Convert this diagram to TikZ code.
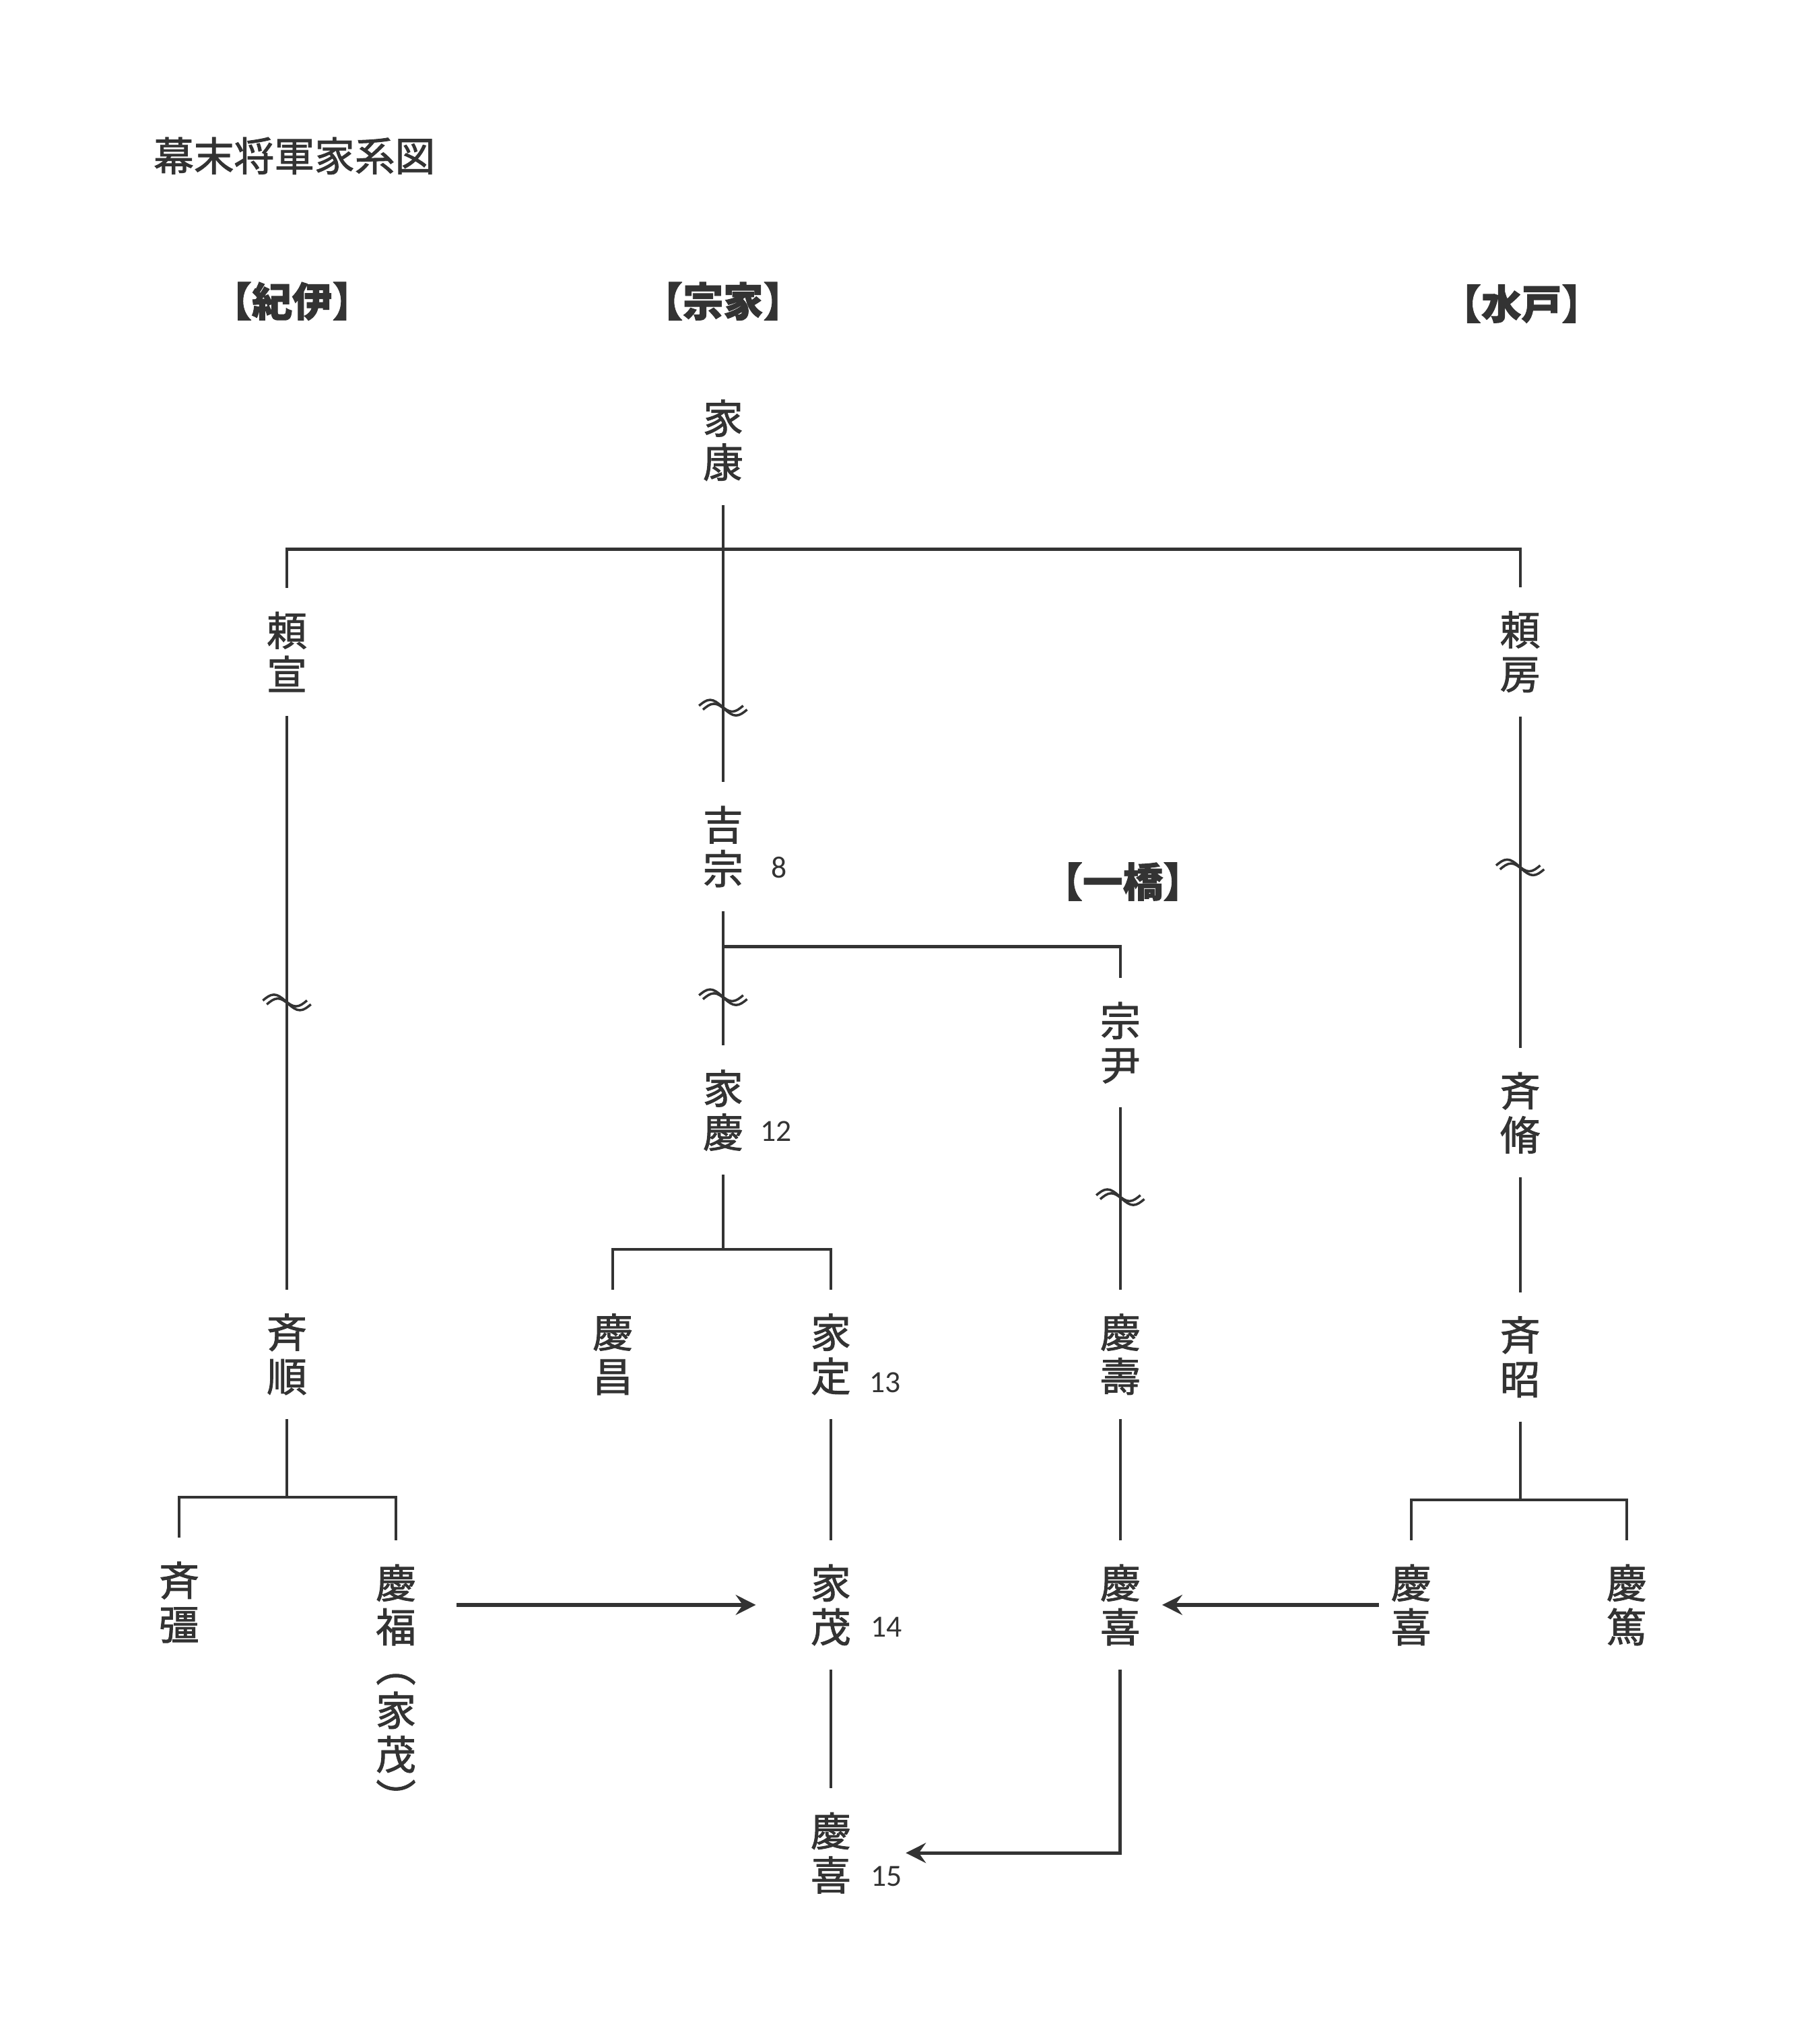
\documentclass[tikz,border=0pt]{standalone}
\usepackage{fontspec}
\newfontfamily\jp[FakeBold=1.5]{Noto Sans CJK JP}
\newfontfamily\numfont{Carlito}
\usepackage{xcolor}
\usepackage{tikz}
\usetikzlibrary{arrows.meta, positioning, calc}
\definecolor{ink}{HTML}{333333}

\begin{document}
\begin{tikzpicture}[
    x=0.01928cm, y=-0.01928cm,
    person/.style={font=\jp\fontsize{17}{18.6}\selectfont, text=ink, align=center, inner xsep=2pt, inner ysep=10pt},
    house/.style={font=\jp\bfseries\fontsize{17}{18.6}\selectfont, text=ink},
    gen/.style={font=\numfont\fontsize{13}{13}\selectfont, text=ink, inner sep=0pt},
    link/.style={draw=ink, line width=1.2pt},
    arrow/.style={-{Stealth[length=8.5pt, width=8.5pt, inset=3pt]}, draw=ink, line width=1.5pt},
    wave/.pic={
        \fill[white] (-18.5,-1.5) sin (-10,-6) cos (-1.5,-1.5) sin (7,3) cos (15.5,-1.5) -- (18.5,1.5) sin (10,6) cos (1.5,1.5) sin (-7,-3) cos (-15.5,1.5) -- cycle;
        \draw[ink, line width=1pt] (-18.5,-1.5) sin (-10,-6) cos (-1.5,-1.5) sin (7,3) cos (15.5,-1.5);
        \draw[ink, line width=1pt] (-15.5,1.5) sin (-7,-3) cos (1.5,1.5) sin (10,6) cos (18.5,1.5);
    }
]
    \useasboundingbox (0,0) rectangle (1402,1568);

    % Title
    \node[person, anchor=west, inner xsep=0pt] (title) at (118,120) {幕末将軍家系図};

    % Houses
    \node[house] (kii) at (225,232) {【紀伊】};
    \node[house] (soke) at (557,232) {【宗家】};
    \node[house] (mito) at (1172,234) {【水戸】};
    \node[house] (hitotsubashi) at (865,679) {【一橋】};

    % Persons
    \node[person] (ieyasu) at (557,339) {家\\康};
    \node[person] (yorinobu) at (221,502) {頼\\宣};
    \node[person] (yorifusa) at (1171,502) {頼\\房};
    \node[person] (yoshimune) at (557,652) {吉\\宗};
    \node[person] (munetada) at (863,803) {宗\\尹};
    \node[person] (ieyoshi) at (557,855) {家\\慶};
    \node[person] (narinobu) at (1171,857) {斉\\脩};
    \node[person] (nariyuki) at (221,1043) {斉\\順};
    \node[person] (yoshimasa) at (472,1043) {慶\\昌};
    \node[person] (iesada) at (640,1043) {家\\定};
    \node[person] (yoshihisa) at (863,1043) {慶\\壽};
    \node[person] (nariaki) at (1171,1045) {斉\\昭};
    \node[person] (narikatsu) at (138,1234) {斉\\彊};
    \node[person] (yoshitomi) at (305,1236) {慶\\福};
    \node[person, inner ysep=0pt] (yoshitomialt) at (305,1343) {︵\\家\\茂\\︶};
    \node[person] (iemochi) at (640,1236) {家\\茂};
    \node[person] (yoshinobuh) at (863,1236) {慶\\喜};
    \node[person] (yoshinobum) at (1087,1236) {慶\\喜};
    \node[person] (yoshiatsu) at (1253,1236) {慶\\篤};
    \node[person] (yoshinobu) at (640,1427) {慶\\喜};

    % Shogun numbers
    \node[gen] (g8) at (600,668) {8};
    \node[gen] (g12) at (598,871) {12};
    \node[gen] (g13) at (682,1065) {13};
    \node[gen] (g14) at (683,1253) {14};
    \node[gen] (g15) at (683,1445) {15};

    % Branch points
    \coordinate (b1) at (557,423);
    \coordinate (b2) at (557,729);
    \coordinate (b3) at (557,962);
    \coordinate (b4) at (221,1153);
    \coordinate (b5) at (1171,1155);

    % Connections
    \draw[link] (ieyasu) -- (yoshimune);
    \draw[link] (yorinobu) |- (b1) -| (yorifusa);
    \draw[link] (yorinobu) -- (nariyuki);
    \draw[link] (yorifusa) -- (narinobu);
    \draw[link] (narinobu) -- (nariaki);
    \draw[link] (yoshimune) -- (ieyoshi);
    \draw[link] (b2) -| (munetada);
    \draw[link] (munetada) -- (yoshihisa);
    \draw[link] (ieyoshi) -- (b3);
    \draw[link] (yoshimasa) |- (b3) -| (iesada);
    \draw[link] (iesada) -- (iemochi);
    \draw[link] (iemochi) -- (yoshinobu);
    \draw[link] (nariyuki) -- (b4);
    \draw[link] (narikatsu) |- (b4) -| (yoshitomi);
    \draw[link] (nariaki) -- (b5);
    \draw[link] (yoshinobum) |- (b5) -| (yoshiatsu);
    \draw[link] (yoshihisa) -- (yoshinobuh);

    % Waves
    \pic at (557,545) {wave};
    \pic at (221,772) {wave};
    \pic at (557,768) {wave};
    \pic at (863,922) {wave};
    \pic at (1171,668) {wave};

    % Adoptions
    \draw[arrow, shorten <=15pt, shorten >=21pt] (yoshitomi) -- (iemochi);
    \draw[arrow, shorten <=3pt, shorten >=7pt] (yoshinobum) -- (yoshinobuh);
    \draw[arrow, shorten >=21pt] (yoshinobuh) |- (yoshinobu);
\end{tikzpicture}
\end{document}
